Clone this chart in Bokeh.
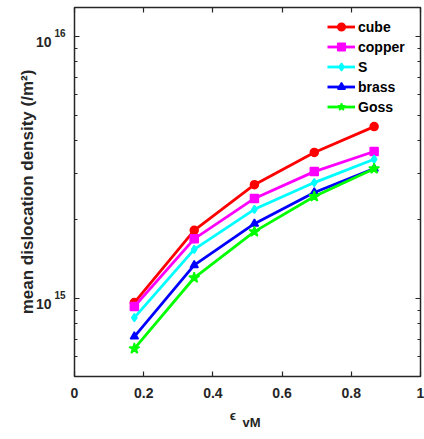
from bokeh.plotting import figure
from bokeh.models import (FixedTicker, LinearAxis, LogAxis, Legend, LegendItem, Range1d)
from bokeh.embed import file_html
from bokeh.resources import INLINE

strain = [0.173, 0.346, 0.52, 0.693, 0.866]
series_names = ["cube", "copper", "S", "brass", "Goss"]
cube = [9.65e14, 1.82e15, 2.72e15, 3.61e15, 4.53e15]
copper = [9.32e14, 1.69e15, 2.41e15, 3.05e15, 3.64e15]
s_comp = [8.46e14, 1.54e15, 2.19e15, 2.77e15, 3.40e15]
brass = [7.16e14, 1.34e15, 1.93e15, 2.54e15, 3.13e15]
goss = [6.44e14, 1.20e15, 1.80e15, 2.45e15, 3.13e15]
series_values = [cube, copper, s_comp, brass, goss]
colors = ["#ff0000", "#ff00ff", "#00ffff", "#0000ff", "#00ff00"]
markers = ["circle", "square", "diamond", "triangle", "star"]

x_ticks = [0, 0.2, 0.4, 0.6, 0.8, 1]
x_tick_labels = ["0", "0.2", "0.4", "0.6", "0.8", "1"]
y_ticks = [1e15, 1e16]
y_tick_bases = ["10", "10"]
y_tick_exponents = ["15", "16"]
y_minor = [6e14, 7e14, 8e14, 9e14] + [k * 1e15 for k in range(2, 10)]
x_title_parts = ["\u03f5\n", "\nvM"]

FONT = "Liberation Sans"
INK = "#262626"

p = figure(width=424, height=439, y_axis_type="log",
           x_range=Range1d(0, 1), y_range=Range1d(5.04e14, 1.29e16),
           output_backend="svg", toolbar_location=None,
           min_border_left=74, min_border_right=4, min_border_top=7, min_border_bottom=63)
p.xgrid.visible = False
p.ygrid.visible = False
p.outline_line_color = INK
p.outline_line_width = 1.5
p.background_fill_color = "white"
p.border_fill_color = "white"

def style_axis(ax, labels=True):
    ax.major_tick_in = 5
    ax.major_tick_out = 0
    ax.minor_tick_in = 3
    ax.minor_tick_out = 0
    ax.axis_line_color = None
    ax.major_tick_line_color = INK
    ax.minor_tick_line_color = INK
    ax.major_tick_line_width = 1.2
    ax.minor_tick_line_width = 1.2
    ax.major_label_text_font = FONT
    ax.major_label_text_font_style = "bold"
    ax.major_label_text_font_size = "14px"
    ax.major_label_text_color = INK
    if not labels:
        ax.major_label_text_font_size = "1px"
        ax.major_label_text_alpha = 0
        ax.major_label_standoff = 0

xax = p.xaxis[0]
xax.ticker = FixedTicker(ticks=x_ticks, minor_ticks=[])
xax.major_label_overrides = {t: l for t, l in zip(x_ticks, x_tick_labels)}
style_axis(xax)
xax.major_label_standoff = 11

# second bottom axis without ticks: carries the x title "epsilon_vM"
x_title_pos = [0.458, 0.5116]
xax2 = LinearAxis(ticker=FixedTicker(ticks=x_title_pos, minor_ticks=[]))
style_axis(xax2)
xax2.major_tick_in = 0
xax2.major_label_overrides = {t: s for t, s in zip(x_title_pos, x_title_parts)}
xax2.major_label_text_font_size = "13px"
xax2.major_label_text_line_height = 0.5
xax2.major_label_standoff = 7
p.add_layout(xax2, "below")

# inner left axis: ticks + exponents (raised by an empty second line)
yax = p.yaxis[0]
yax.ticker = FixedTicker(ticks=y_ticks, minor_ticks=y_minor)
yax.major_label_overrides = {t: e + "\n" for t, e in zip(y_ticks, y_tick_exponents)}
style_axis(yax)
yax.major_label_text_font_size = "10px"
yax.major_label_text_line_height = 0.5
yax.major_label_standoff = 9

# outer left axis: the "10" bases and the axis title
yax2 = LogAxis(ticker=FixedTicker(ticks=y_ticks, minor_ticks=[]))
style_axis(yax2)
yax2.major_tick_in = 0
yax2.minor_tick_in = 0
yax2.major_label_overrides = {t: "\n" + b for t, b in zip(y_ticks, y_tick_bases)}
yax2.major_label_text_line_height = 0.7
yax2.major_label_standoff = 0
yax2.axis_label = "mean dislocation density (/m\u00b2)"
yax2.axis_label_text_font = FONT
yax2.axis_label_text_font_style = "bold"
yax2.axis_label_text_font_size = "17px"
yax2.axis_label_text_color = INK
yax2.axis_label_standoff = -4
p.add_layout(yax2, "left")

rax = LogAxis(ticker=FixedTicker(ticks=y_ticks, minor_ticks=y_minor))
style_axis(rax, labels=False)
p.add_layout(rax, "right")
tax = LinearAxis(ticker=FixedTicker(ticks=x_ticks, minor_ticks=[]))
style_axis(tax, labels=False)
p.add_layout(tax, "above")

items = []
for name, vals, c, m in zip(series_names, series_values, colors, markers):
    l = p.line(strain, vals, line_color=c, line_width=2.8)
    s = p.scatter(strain, vals, marker=m, size=8 if m != "star" else 11,
                  fill_color=c, line_color=c, line_width=1.5)
    items.append(LegendItem(label=name, renderers=[l, s]))

legend = Legend(items=items, location=(253, 260))
legend.border_line_color = None
legend.background_fill_alpha = 0
legend.label_text_font = FONT
legend.label_text_font_style = "bold"
legend.label_text_font_size = "14px"
legend.label_text_color = "#000000"
legend.glyph_width = 28
legend.glyph_height = 19
legend.label_height = 19
legend.label_standoff = 3
legend.spacing = 1
legend.padding = 5
legend.margin = 0
p.add_layout(legend)

open("out.html", "w").write(file_html(p, INLINE))
